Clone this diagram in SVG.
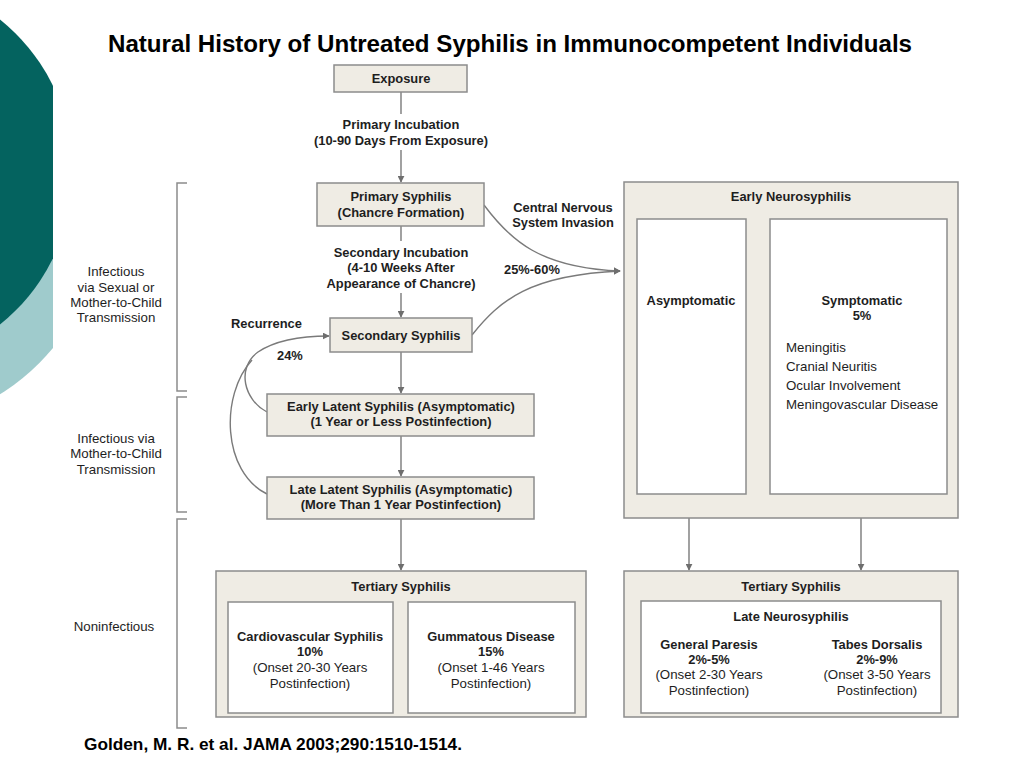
<svg xmlns="http://www.w3.org/2000/svg" width="1024" height="768" viewBox="0 0 1024 768">
<defs>
<style>
text{font-family:"Liberation Sans",Arial,sans-serif;fill:#1e1e1e;font-size:13.3px}
.b{font-weight:bold;font-size:12.9px}
.c{text-anchor:middle}
.title{font-size:23px;font-weight:bold;fill:#000}
.box{fill:#efece4;stroke:#8c8c8c;stroke-width:1.5}
.inner{fill:#fff;stroke:#8c8c8c;stroke-width:1.5}
.ln{fill:none;stroke:#7a7a7a;stroke-width:1.4}
.br{fill:none;stroke:#8c8c8c;stroke-width:1.5}
</style>
<marker id="ah" viewBox="0 0 10 10" refX="9" refY="5" markerWidth="7" markerHeight="7" orient="auto" markerUnits="userSpaceOnUse">
<path d="M0,0 L10,5 L0,10 z" fill="#6e6e6e"/>
</marker>
<clipPath id="clipL"><rect x="0" y="0" width="53" height="768"/></clipPath>
<clipPath id="clipLow"><rect x="0" y="200" width="53" height="568"/></clipPath>
</defs>
<rect width="1024" height="768" fill="#fff"/>
<g id="decor">
<g clip-path="url(#clipLow)"><circle cx="-123" cy="200" r="230" fill="#9fcbcc" clip-path="url(#clipL)"/></g>
<circle cx="-123" cy="172" r="196" fill="#04635f" clip-path="url(#clipL)"/>
</g>
<text class="title c" x="510" y="52" textLength="804" lengthAdjust="spacingAndGlyphs">Natural History of Untreated Syphilis in Immunocompetent Individuals</text>

<g id="brackets">
<path class="br" d="M187,183 H177 V391 H187"/>
<path class="br" d="M187,397 H177 V512 H187"/>
<path class="br" d="M187,519 H177 V728 H187"/>
<text class="c" x="116" y="276">Infectious</text>
<text class="c" x="116" y="292">via Sexual or</text>
<text class="c" x="116" y="307">Mother-to-Child</text>
<text class="c" x="116" y="322">Transmission</text>
<text class="c" x="116" y="443">Infectious via</text>
<text class="c" x="116" y="458">Mother-to-Child</text>
<text class="c" x="116" y="474">Transmission</text>
<text class="c" x="114" y="631">Noninfectious</text>
</g>

<g id="connectors">
<path class="ln" d="M401,92 V114"/>
<path class="ln" d="M401,150 V182" marker-end="url(#ah)"/>
<path class="ln" d="M401,226 V241"/>
<path class="ln" d="M401,293 V317" marker-end="url(#ah)"/>
<path class="ln" d="M401,352 V393" marker-end="url(#ah)"/>
<path class="ln" d="M401,436 V476" marker-end="url(#ah)"/>
<path class="ln" d="M401,519 V570" marker-end="url(#ah)"/>
<path class="ln" d="M484,205 C510,240 540,268 620,271" marker-end="url(#ah)"/>
<path class="ln" d="M472,335 C500,300 530,275 620,271" marker-end="url(#ah)"/>
<path class="ln" d="M267,412 C244,400 236,368 258,352 C276,340 300,336 329,336" marker-end="url(#ah)"/>
<path class="ln" d="M267,494 C222,472 220,395 252,360"/>
<path class="ln" d="M746,300 H769" marker-end="url(#ah)"/>
<path class="ln" d="M689,494 V570" marker-end="url(#ah)"/>
<path class="ln" d="M861,494 V570" marker-end="url(#ah)"/>
<text class="b c" x="401" y="129">Primary Incubation</text>
<text class="b c" x="401" y="145">(10-90 Days From Exposure)</text>
<text class="b c" x="401" y="257">Secondary Incubation</text>
<text class="b c" x="401" y="272">(4-10 Weeks After</text>
<text class="b c" x="401" y="288">Appearance of Chancre)</text>
<text class="b c" x="563" y="212">Central Nervous</text>
<text class="b c" x="563" y="227">System Invasion</text>
<text class="b" x="504" y="274">25%-60%</text>
<text class="b" x="231" y="328">Recurrence</text>
<text class="b" x="277" y="360">24%</text>
</g>

<g id="exposure">
<rect class="box" x="334" y="65" width="133" height="27"/>
<text class="b c" x="401" y="83">Exposure</text>
</g>
<g id="primary">
<rect class="box" x="317" y="183" width="167" height="43"/>
<text class="b c" x="401" y="201">Primary Syphilis</text>
<text class="b c" x="401" y="217">(Chancre Formation)</text>
</g>
<g id="secondary">
<rect class="box" x="330" y="318" width="142" height="34"/>
<text class="b c" x="401" y="340">Secondary Syphilis</text>
</g>
<g id="early-latent">
<rect class="box" x="267" y="394" width="267" height="42"/>
<text class="b c" x="401" y="411">Early Latent Syphilis (Asymptomatic)</text>
<text class="b c" x="401" y="426">(1 Year or Less Postinfection)</text>
</g>
<g id="late-latent">
<rect class="box" x="267" y="477" width="267" height="42"/>
<text class="b c" x="401" y="494">Late Latent Syphilis (Asymptomatic)</text>
<text class="b c" x="401" y="509">(More Than 1 Year Postinfection)</text>
</g>

<g id="tertiary-left">
<rect class="box" x="216" y="571" width="370" height="146"/>
<text class="b c" x="401" y="591">Tertiary Syphilis</text>
<rect class="inner" x="228" y="602" width="165" height="111"/>
<text class="b c" x="310" y="641">Cardiovascular Syphilis</text>
<text class="b c" x="310" y="656">10%</text>
<text class="c" x="310" y="672">(Onset 20-30 Years</text>
<text class="c" x="310" y="688">Postinfection)</text>
<rect class="inner" x="408" y="602" width="167" height="111"/>
<text class="b c" x="491" y="641">Gummatous Disease</text>
<text class="b c" x="491" y="656">15%</text>
<text class="c" x="491" y="672">(Onset 1-46 Years</text>
<text class="c" x="491" y="688">Postinfection)</text>
</g>

<g id="early-neurosyphilis">
<rect class="box" x="624" y="182" width="334" height="336"/>
<text class="b c" x="791" y="201">Early Neurosyphilis</text>
<rect class="inner" x="637" y="219" width="109" height="275"/>
<text class="b c" x="691" y="305">Asymptomatic</text>
<rect class="inner" x="770" y="219" width="177" height="275"/>
<text class="b c" x="862" y="305">Symptomatic</text>
<text class="b c" x="862" y="320">5%</text>
<text x="786" y="352">Meningitis</text>
<text x="786" y="371">Cranial Neuritis</text>
<text x="786" y="390">Ocular Involvement</text>
<text x="786" y="409">Meningovascular Disease</text>
</g>

<g id="tertiary-right">
<rect class="box" x="624" y="571" width="334" height="146"/>
<text class="b c" x="791" y="591">Tertiary Syphilis</text>
<rect class="inner" x="641" y="601" width="300" height="112"/>
<text class="b c" x="791" y="621">Late Neurosyphilis</text>
<text class="b c" x="709" y="649">General Paresis</text>
<text class="b c" x="709" y="664">2%-5%</text>
<text class="c" x="709" y="679">(Onset 2-30 Years</text>
<text class="c" x="709" y="695">Postinfection)</text>
<text class="b c" x="877" y="649">Tabes Dorsalis</text>
<text class="b c" x="877" y="664">2%-9%</text>
<text class="c" x="877" y="679">(Onset 3-50 Years</text>
<text class="c" x="877" y="695">Postinfection)</text>
</g>

<text class="b" x="84" y="750" style="font-size:17px;fill:#000" textLength="378" lengthAdjust="spacingAndGlyphs">Golden, M. R. et al. JAMA 2003;290:1510-1514.</text>
</svg>
